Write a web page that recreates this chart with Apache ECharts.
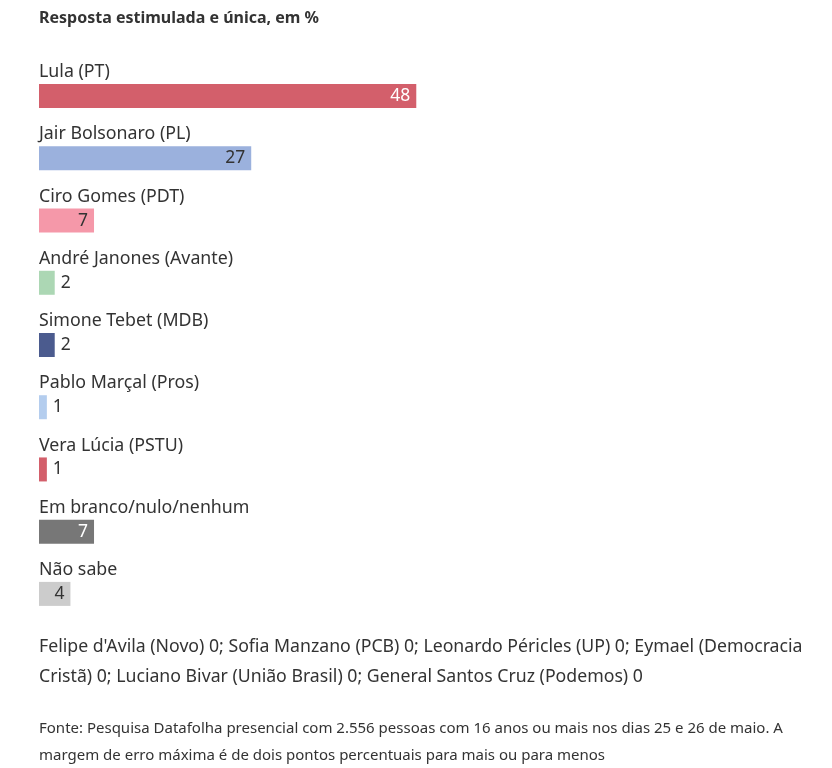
<!DOCTYPE html>
<html><head><meta charset="utf-8">
<script src="https://cdn.jsdelivr.net/npm/echarts@6/dist/echarts.min.js"></script>
<style>html,body{margin:0;padding:0;background:#fff}#c{width:832px;height:768px}</style>
</head><body><div id="c"></div>
<script>
const categories = ['Lula (PT)','Jair Bolsonaro (PL)','Ciro Gomes (PDT)','André Janones (Avante)','Simone Tebet (MDB)','Pablo Marçal (Pros)','Vera Lúcia (PSTU)','Em branco/nulo/nenhum','Não sabe'];
const values = [48,27,7,2,2,1,1,7,4];
const colors = ['#d35f6b','#9bb1dd','#f598a9','#acd7b4','#4b5b8e','#b4cdee','#d35f6b','#777777','#cccccc'];
const labelColors = ['#ffffff','#333333','#333333','#333333','#333333','#333333','#333333','#ffffff','#333333'];
const title = 'Resposta estimulada e única, em %';
const note1 = ["Felipe d'Avila (Novo) 0; Sofia Manzano (PCB) 0; Leonardo Péricles (UP) 0; Eymael (Democracia", "Cristã) 0; Luciano Bivar (União Brasil) 0; General Santos Cruz (Podemos) 0"];
const note2 = ['Fonte: Pesquisa Datafolha presencial com 2.556 pessoas com 16 anos ou mais nos dias 25 e 26 de maio. A', 'margem de erro máxima é de dois pontos percentuais para mais ou para menos'];
const FONT = '"Noto Sans", sans-serif';

const chart = echarts.init(document.getElementById('c'), null, {renderer:'canvas'});
const barData = values.map((v,i)=>({
  value: v,
  itemStyle: {color: colors[i]},
  label: v >= 4 ? {position:'insideRight', distance:6, color: labelColors[i]} : {position:'right', distance:6, color:'#333333'}
}));
chart.setOption({
  animation:false,
  textStyle:{fontFamily:FONT},
  grid:{left:39, right:7, top:65, height:560, containLabel:false},
  xAxis:{type:'value', min:0, max:100, show:false},
  yAxis:{type:'category', data:categories, inverse:true, show:false},
  series:[
    {type:'bar', data:barData, barWidth:24,
     label:{show:true, fontSize:17.5, fontFamily:FONT}},
    {type:'bar', data:values, barWidth:24, barGap:'-100%', silent:true,
     itemStyle:{color:'rgba(0,0,0,0)'},
     label:{show:true, formatter:'{b}', position:[0,-22], fontSize:17.8, lineHeight:20, color:'#333333', fontFamily:FONT}}
  ],
  graphic:[
    {type:'text', left:39, top:10, style:{text:title, font:'bold 16px '+FONT, fill:'#333333'}},
    {type:'text', left:39, top:632, style:{text:note1.join('\n'), font:'17.7px '+FONT, lineHeight:30, fill:'#333333'}},
    {type:'text', left:39, top:715, style:{text:note2.join('\n'), font:'15px '+FONT, lineHeight:27, fill:'#333333'}}
  ]
});
</script></body></html>
